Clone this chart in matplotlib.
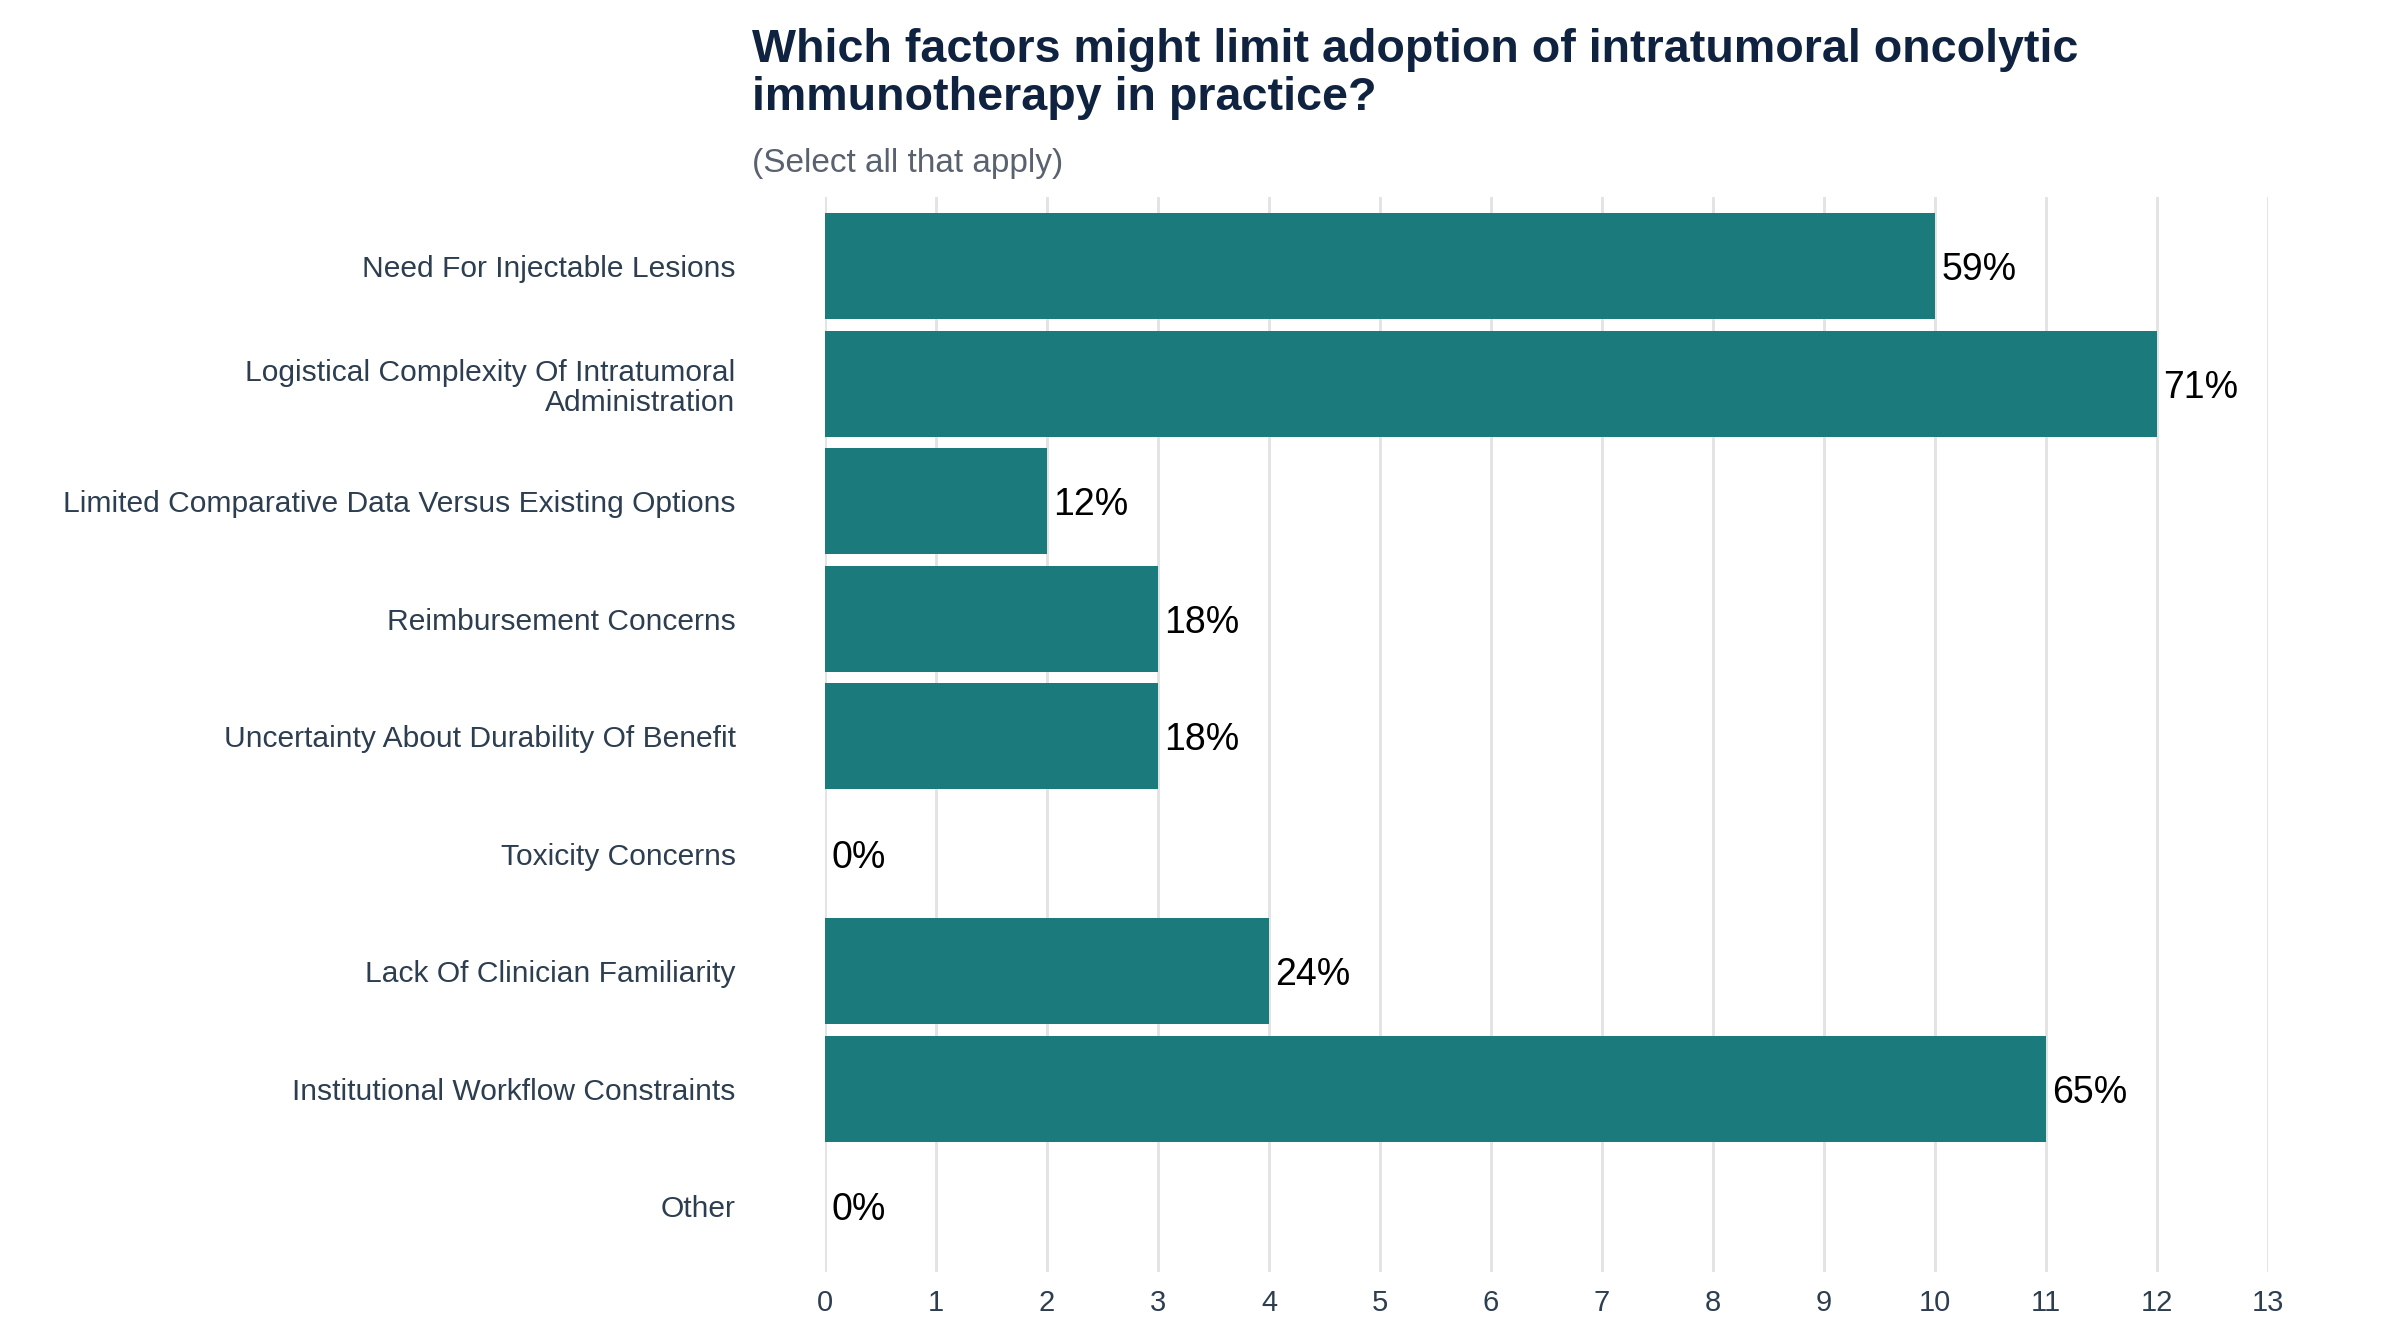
import matplotlib
matplotlib.use('Agg')
import matplotlib.pyplot as plt
import numpy as np

plt.rcParams['font.family'] = ['Liberation Sans', 'DejaVu Sans']

# Données
categories = [
    'Need For Injectable Lesions',
    'Logistical Complexity Of Intratumoral\nAdministration',
    'Limited Comparative Data Versus Existing Options',
    'Reimbursement Concerns',
    'Uncertainty About Durability Of Benefit',
    'Toxicity Concerns',
    'Lack Of Clinician Familiarity',
    'Institutional Workflow Constraints',
    'Other',
]
counts = [10, 12, 2, 3, 3, 0, 4, 11, 0]
pct_labels = ['59%', '71%', '12%', '18%', '18%', '0%', '24%', '65%', '0%']
x_ticks = list(range(0, 14))

bar_color = '#1b7a7c'
title_color = '#0f2340'
label_color = '#2c3e50'

fig = plt.figure(figsize=(16, 8.96), dpi=150)
ax = fig.add_axes([0.3438, 0.0536, 0.6012, 0.7998])

y = np.arange(len(categories))
ax.barh(y, counts, height=0.9, color=bar_color, zorder=2)

# Étiquettes de pourcentage
for yi, c, lab in zip(y, counts, pct_labels):
    ax.annotate(lab, (c, yi), xytext=(3, 0), textcoords='offset points',
                va='center_baseline', ha='left', fontsize=18, color='black')

ax.set_xlim(0, 13)
ax.set_ylim(8.56, -0.59)
ax.set_xticks(x_ticks)
ax.set_yticks(y)
ax.set_yticklabels(categories, linespacing=1.1)

ax.grid(axis='x', color='#e3e3e3', linewidth=1.4, zorder=0)
ax.grid(axis='y', visible=False)
for s in ax.spines.values():
    s.set_visible(False)
ax.tick_params(axis='y', length=0, pad=43, labelsize=14.4, labelcolor=label_color)
ax.tick_params(axis='x', length=0, pad=8, labelsize=14, labelcolor=label_color)

# Titre et sous-titre
fig.text(0.3135, 0.979,
         'Which factors might limit adoption of intratumoral oncolytic\nimmunotherapy in practice?',
         fontsize=22.4, fontweight='bold', color=title_color, ha='left', va='top',
         linespacing=1.1)
fig.text(0.3135, 0.890, '(Select all that apply)', fontsize=16, color='#5a6270',
         ha='left', va='top')

fig.savefig('out.png', dpi=150)
